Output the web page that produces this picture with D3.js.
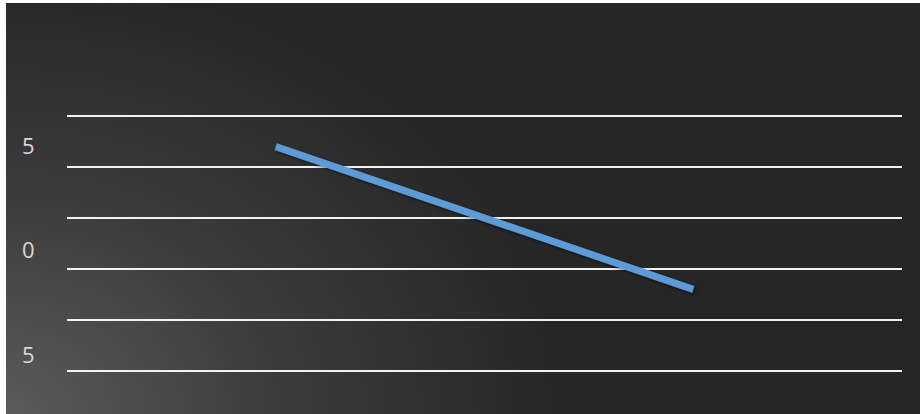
<!DOCTYPE html>
<html>
<head>
<meta charset="utf-8">
<script src="https://cdn.jsdelivr.net/npm/d3@7"></script>
<style>
  html, body { margin: 0; padding: 0; background: #ffffff; }
  svg { display: block; }
</style>
</head>
<body>
<div id="chart"></div>
<script>
// data
const categories = ["A", "B"];
const seriesValues = [4.4, 1.6];
const gridValues = [0, 1, 2, 3, 4, 5];
const tickLabels = ["5", "0", "5"];
const tickValues = [4.4, 2.36, 0.3];

document.addEventListener("DOMContentLoaded", () => {

    let width = 920, height = 414;
    let margin = { top: 116, right: 18, bottom: 43, left: 67 };

    let svg = d3.select("#chart")
        .append("svg")
        .attr("width", width)
        .attr("height", height);

    //START background
    let defs = svg.append("defs");
    let grad = defs.append("radialGradient")
        .attr("id", "bg")
        .attr("gradientUnits", "userSpaceOnUse")
        .attr("cx", 6).attr("cy", 414).attr("r", 560)
        .attr("gradientTransform", "translate(6,414) scale(1,0.8) translate(-6,-414)");
    grad.append("stop").attr("offset", "0").attr("stop-color", "#5b5b5b");
    grad.append("stop").attr("offset", "0.5").attr("stop-color", "#3b3b3b");
    grad.append("stop").attr("offset", "1").attr("stop-color", "#262626");

    let shadow = defs.append("filter").attr("id", "shadow")
        .attr("x", "-10%").attr("y", "-10%").attr("width", "120%").attr("height", "130%");
    shadow.append("feDropShadow")
        .attr("dx", 1.5).attr("dy", 1.5).attr("stdDeviation", 1.5)
        .attr("flood-color", "#000").attr("flood-opacity", 0.6);

    svg.append("rect")
        .attr("x", 6).attr("y", 3)
        .attr("width", width - 6).attr("height", height - 3)
        .style("fill", "url(#bg)");
    //END background

    let x = d3.scaleBand()
        .domain(categories)
        .range([margin.left, width - margin.right]);

    let y = d3.scaleLinear()
        .domain([0, 5])
        .range([height - margin.bottom, margin.top]);

    //START gridlines
    svg.append("g")
        .selectAll("line")
        .data(gridValues)
        .enter()
        .append("line")
        .attr("x1", margin.left)
        .attr("x2", width - margin.right)
        .attr("y1", (d) => y(d))
        .attr("y2", (d) => y(d))
        .style("stroke", "#f2f2f2")
        .style("stroke-width", 2);
    //END gridlines

    //START labels
    svg.append("g")
        .selectAll("text")
        .data(tickLabels)
        .enter()
        .append("text")
        .attr("x", 22)
        .attr("y", (d, i) => y(tickValues[i]))
        .attr("dy", "0.35em")
        .style("font-family", "'Open Sans', sans-serif")
        .style("font-size", "22px")
        .style("fill", "#d9d9d9")
        .text((d) => d);
    //END labels

    //START line
    let line = d3.line()
        .x((d, i) => x(categories[i]) + x.bandwidth() / 2)
        .y((d) => y(d));

    svg.append("path")
        .datum(seriesValues)
        .attr("d", line)
        .attr("filter", "url(#shadow)")
        .style("fill", "none")
        .style("stroke", "#5b9bd5")
        .style("stroke-width", 7)
        .style("stroke-linecap", "butt");
    //END line
});
</script>
</body>
</html>
